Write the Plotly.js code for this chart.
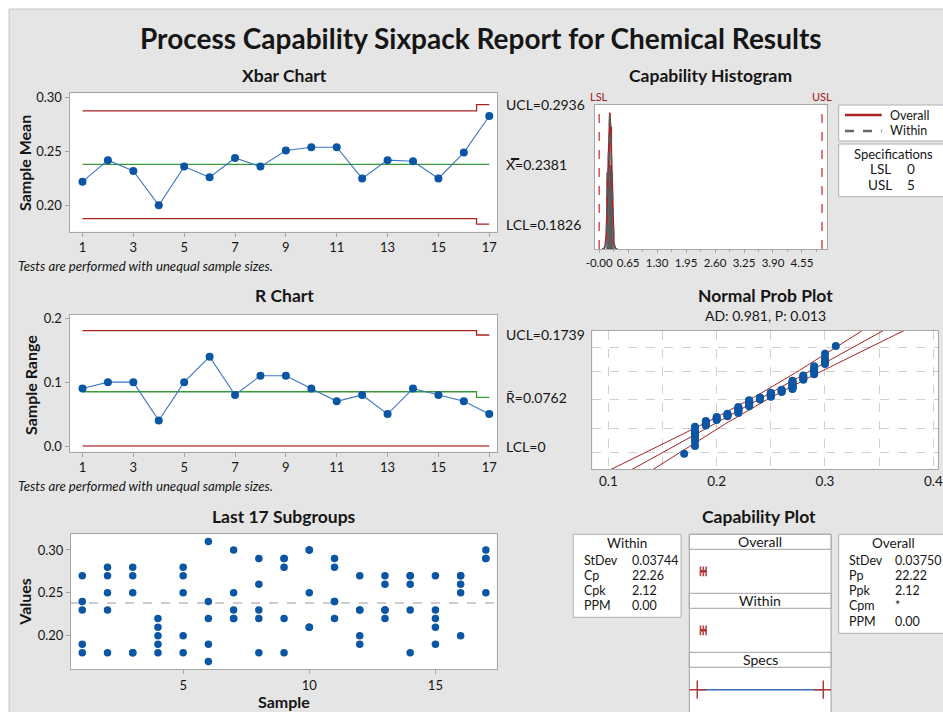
<!DOCTYPE html>
<html>
<head>
<meta charset="utf-8">
<script src="https://cdn.plot.ly/plotly-3.0.1.min.js"></script>
<style>html,body{margin:0;padding:0;background:#fff;}#chart{width:943px;height:712px;}</style>
</head>
<body>
<div id="chart"></div>
<script>
// ---------------- DATA ----------------
const sampleNums = [1,2,3,4,5,6,7,8,9,10,11,12,13,14,15,16,17];
const xbarMeans = [0.222,0.242,0.232,0.200,0.236,0.226,0.244,0.236,0.251,0.254,0.254,0.225,0.242,0.241,0.225,0.249,0.283];
const ranges    = [0.09,0.10,0.10,0.04,0.10,0.14,0.08,0.11,0.11,0.09,0.07,0.08,0.05,0.09,0.08,0.07,0.05];
const xbarUCL = [0.2877,0.2877,0.2877,0.2877,0.2877,0.2877,0.2877,0.2877,0.2877,0.2877,0.2877,0.2877,0.2877,0.2877,0.2877,0.2877,0.2936];
const xbarLCL = [0.1876,0.1876,0.1876,0.1876,0.1876,0.1876,0.1876,0.1876,0.1876,0.1876,0.1876,0.1876,0.1876,0.1876,0.1876,0.1876,0.1826];
const xbarCL  = [0.2381,0.2381,0.2381,0.2381,0.2381,0.2381,0.2381,0.2381,0.2381,0.2381,0.2381,0.2381,0.2381,0.2381,0.2381,0.2381,0.2381];
const rUCL = [0.1806,0.1806,0.1806,0.1806,0.1806,0.1806,0.1806,0.1806,0.1806,0.1806,0.1806,0.1806,0.1806,0.1806,0.1806,0.1806,0.1739];
const rCL  = [0.0850,0.0850,0.0850,0.0850,0.0850,0.0850,0.0850,0.0850,0.0850,0.0850,0.0850,0.0850,0.0850,0.0850,0.0850,0.0850,0.0762];
const rLCL = [0,0,0,0,0,0,0,0,0,0,0,0,0,0,0,0,0];
const xbarLabels = ["UCL=0.2936", "X\u033F=0.2381", "LCL=0.1826"];
const rLabels = ["UCL=0.1739", "R\u0304=0.0762", "LCL=0"];

const subgroupValues = [
  [0.27,0.24,0.23,0.19,0.18],
  [0.28,0.27,0.25,0.23,0.18],
  [0.28,0.27,0.25,0.18,0.18],
  [0.22,0.21,0.20,0.19,0.18],
  [0.28,0.27,0.25,0.20,0.18],
  [0.31,0.24,0.22,0.19,0.17],
  [0.30,0.25,0.23,0.22,0.22],
  [0.29,0.26,0.23,0.22,0.18],
  [0.29,0.29,0.28,0.22,0.18],
  [0.30,0.30,0.25,0.21,0.21],
  [0.29,0.28,0.24,0.24,0.22],
  [0.27,0.23,0.23,0.20,0.19],
  [0.27,0.26,0.23,0.23,0.22],
  [0.27,0.27,0.26,0.23,0.18],
  [0.27,0.23,0.22,0.21,0.19],
  [0.27,0.27,0.26,0.25,0.20],
  [0.30,0.29,0.29,0.25]
];
const grandMean = 0.2381;
const sdOverall = 0.03750;
const sdWithin = 0.03744;
const LSL = 0, USL = 5;
const histTickVals = [0,0.65,1.30,1.95,2.60,3.25,3.90,4.55];
const histTickText = ["-0.00","0.65","1.30","1.95","2.60","3.25","3.90","4.55"];
const probPercents = [1,10,50,90,99];
const probXTicks = [0.1,0.15,0.2,0.25,0.3,0.35,0.4];
const probXText = ["0.1","","0.2","","0.3","","0.4"];
const withinLabels = ["StDev","Cp","Cpk","PPM"];
const withinValues = ["0.03744","22.26","2.12","0.00"];
const overallLabels = ["StDev","Pp","Ppk","Cpm","PPM"];
const overallValues = ["0.03750","22.22","2.12","*","0.00"];
const specLabels = ["LSL","USL"];
const specValues = ["0","5"];

// ---------------- HELPERS ----------------
const W = 943, H = 712;
const fx = p => p / W;
const fy = p => 1 - p / H;
const FONT = "Lato, 'Open Sans', sans-serif";
const TXT = "#161616";
const RED = "#a82222";
const GREEN = "#3a9a3a";
const BLUE = "#0b56a4";
const BLUEL = "#3a76c0";
const GRAYL = "#a6a6a6";

function invNorm(p){
  const a=[-3.969683028665376e+01,2.209460984245205e+02,-2.759285104469687e+02,1.383577518672690e+02,-3.066479806614716e+01,2.506628277459239e+00];
  const b=[-5.447609879822406e+01,1.615858368580409e+02,-1.556989798598866e+02,6.680131188771972e+01,-1.328068155288572e+01];
  const c=[-7.784894002430293e-03,-3.223964580411365e-01,-2.400758277161838e+00,-2.549732539343734e+00,4.374664141464968e+00,2.938163982698783e+00];
  const d=[7.784695709041462e-03,3.224671290700398e-01,2.445134137142996e+00,3.754408661907416e+00];
  const pl=0.02425; let q,r;
  if(p<pl){q=Math.sqrt(-2*Math.log(p));return (((((c[0]*q+c[1])*q+c[2])*q+c[3])*q+c[4])*q+c[5])/((((d[0]*q+d[1])*q+d[2])*q+d[3])*q+1);}
  if(p<=1-pl){q=p-0.5;r=q*q;return (((((a[0]*r+a[1])*r+a[2])*r+a[3])*r+a[4])*r+a[5])*q/(((((b[0]*r+b[1])*r+b[2])*r+b[3])*r+b[4])*r+1);}
  q=Math.sqrt(-2*Math.log(1-p));
  return -(((((c[0]*q+c[1])*q+c[2])*q+c[3])*q+c[4])*q+c[5])/((((d[0]*q+d[1])*q+d[2])*q+d[3])*q+1);
}
function normPdf(x,m,s){return Math.exp(-0.5*((x-m)/s)**2)/(s*Math.sqrt(2*Math.PI));}

// flatten subgroups
const scatterX = [], scatterY = [];
subgroupValues.forEach((g,i)=>g.forEach(v=>{scatterX.push(sampleNums[i]);scatterY.push(v);}));
const allVals = scatterY.slice();
const sorted = allVals.slice().sort((a,b)=>a-b);
const n = sorted.length;
const probZ = sorted.map((v,i)=>invNorm((i+1-0.3)/(n+0.4)));

// fitted lines for probability plot
const zGrid = []; for(let k=0;k<=60;k++) zGrid.push(-3.3+6.6*k/60);
const fitX = zGrid.map(z=>grandMean+z*sdOverall);
const bandW = zGrid.map(z=>1.96*sdOverall*Math.sqrt(1/n+z*z/(2*n)));
const lowX = fitX.map((x,i)=>x-bandW[i]);
const upX = fitX.map((x,i)=>x+bandW[i]);

// normal curves for histogram
const curveX = []; for(let k=0;k<=120;k++) curveX.push(grandMean-4.5*sdOverall+9*sdOverall*k/120);
const curveO = curveX.map(x=>normPdf(x,grandMean,sdOverall));
const curveW = curveX.map(x=>normPdf(x,grandMean,sdWithin));

// ---------------- TRACES ----------------
const traces = [];
function limitTrace(y, color, xa, ya, width){
  return {x: sampleNums, y: y, mode:'lines', line:{color:color, width:width||1.3, shape:'hvh'}, xaxis:xa, yaxis:ya, hoverinfo:'skip'};
}
// Xbar
traces.push(limitTrace(xbarUCL, RED, 'x','y'));
traces.push(limitTrace(xbarLCL, RED, 'x','y'));
traces.push(limitTrace(xbarCL, GREEN, 'x','y'));
traces.push({x:sampleNums, y:xbarMeans, mode:'lines+markers', line:{color:BLUEL,width:1.1}, marker:{color:BLUE,size:8}, xaxis:'x', yaxis:'y'});
// R
traces.push(limitTrace(rUCL, RED, 'x2','y2'));
traces.push(limitTrace(rLCL, '#c25050', 'x2','y2', 1.6));
traces.push(limitTrace(rCL, GREEN, 'x2','y2'));
traces.push({x:sampleNums, y:ranges, mode:'lines+markers', line:{color:BLUEL,width:1.1}, marker:{color:BLUE,size:8}, xaxis:'x2', yaxis:'y2'});
// Last 17 subgroups
traces.push({x:scatterX, y:scatterY, mode:'markers', marker:{color:BLUE,size:7.5}, xaxis:'x3', yaxis:'y3'});
// Histogram
traces.push({type:'histogram', x:allVals, histnorm:'probability density', xbins:{start:0.165,end:0.325,size:0.02},
  marker:{color:'#5e5e5e', line:{color:'#444', width:0.3}}, xaxis:'x4', yaxis:'y4'});
traces.push({x:curveX, y:curveO, mode:'lines', line:{color:RED,width:1.6}, xaxis:'x4', yaxis:'y4'});
traces.push({x:curveX, y:curveW, mode:'lines', line:{color:'#5a5a5a',width:1.4,dash:'dash'}, xaxis:'x4', yaxis:'y4'});
// Probability plot
traces.push({x:lowX, y:zGrid, mode:'lines', line:{color:RED,width:1}, xaxis:'x5', yaxis:'y5'});
traces.push({x:fitX, y:zGrid, mode:'lines', line:{color:RED,width:1}, xaxis:'x5', yaxis:'y5'});
traces.push({x:upX, y:zGrid, mode:'lines', line:{color:RED,width:1}, xaxis:'x5', yaxis:'y5'});
traces.push({x:sorted, y:probZ, mode:'markers', marker:{color:BLUE,size:8}, xaxis:'x5', yaxis:'y5'});
// Capability plot intervals
function intervalTrace(sd, xa, ya){
  return {x:[grandMean-3*sd, grandMean, grandMean+3*sd], y:[0,0,0], mode:'lines+markers',
    line:{color:RED,width:2.5}, marker:{symbol:'line-ns-open',size:7,color:'#b04444',line:{color:'#b04444',width:1.6}},
    xaxis:xa, yaxis:ya};
}
traces.push(intervalTrace(sdOverall,'x6','y6'));
traces.push(intervalTrace(sdWithin,'x7','y7'));
traces.push({x:[LSL,USL], y:[0,0], mode:'lines+markers', line:{color:'#3a70b8',width:1.5},
  marker:{symbol:'cross-thin-open',size:13,color:'#b03535',line:{color:'#b03535',width:1.5}}, xaxis:'x8', yaxis:'y8'});

traces.forEach(t=>{t.showlegend=false; if(!t.hoverinfo) t.hoverinfo='skip';});

// ---------------- AXES ----------------
function baseAx(extra){
  return Object.assign({showgrid:false, zeroline:false, showline:true, mirror:true, linecolor:GRAYL, linewidth:1,
    ticks:'outside', ticklen:4, tickcolor:GRAYL, tickfont:{family:FONT,size:13,color:TXT}, fixedrange:true}, extra);
}
const layout = {
  width:W, height:H, margin:{l:0,r:0,t:0,b:0},
  paper_bgcolor:'#e5e5e5', plot_bgcolor:'#ffffff', showlegend:false,
  font:{family:FONT,color:TXT},
  // Xbar
  xaxis: baseAx({domain:[fx(69.5),fx(497.4)], range:[0.489,17.32], tickvals:[1,3,5,7,9,11,13,15,17], anchor:'y'}),
  yaxis: baseAx({domain:[fy(231.7),fy(93.3)], range:[0.1755,0.3041], tickvals:[0.20,0.25,0.30], tickformat:'.2f', anchor:'x'}),
  // R
  xaxis2: baseAx({domain:[fx(69.5),fx(497.4)], range:[0.489,17.32], tickvals:[1,3,5,7,9,11,13,15,17], anchor:'y2'}),
  yaxis2: baseAx({domain:[fy(451.7),fy(315)], range:[-0.0089,0.2052], tickvals:[0,0.1,0.2], tickformat:'.1f', anchor:'x2'}),
  // Last 17
  xaxis3: baseAx({domain:[fx(71),fx(496.7)], range:[0.553,17.43], tickvals:[5,10,15], anchor:'y3'}),
  yaxis3: baseAx({domain:[fy(669.3),fy(534.3)], range:[0.1608,0.3183], tickvals:[0.20,0.25,0.30], tickformat:'.2f', anchor:'x3'}),
  // Histogram
  xaxis4: baseAx({domain:[fx(594.7),fx(826.7)], range:[-0.10,5.105], tickvals:histTickVals, ticktext:histTickText,
    ticklen:3, tickfont:{family:FONT,size:11.5,color:TXT},
    minor:{tickmode:'linear', tick0:0, dtick:0.325, ticks:'outside', ticklen:2, tickcolor:GRAYL}, anchor:'y4'}),
  yaxis4: baseAx({domain:[fy(249),fy(105)], range:[0,11.25], showticklabels:false, ticks:'', anchor:'x4'}),
  // Prob plot
  xaxis5: baseAx({domain:[fx(592.3),fx(938.3)], range:[0.0852,0.4046], tickvals:probXTicks, ticktext:probXText, ticks:'',
    showgrid:true, gridcolor:'#d0d0d0', griddash:'dash', tickfont:{family:FONT,size:13.5,color:TXT}, anchor:'y5'}),
  yaxis5: baseAx({domain:[fy(469),fy(330.7)], range:[-3.08,3.08], tickvals:probPercents.map(p=>invNorm(p/100)),
    showticklabels:false, ticks:'', showgrid:true, gridcolor:'#d0d0d0', griddash:'dash', anchor:'x5'}),
  // Capability plot panels
  xaxis6: {domain:[fx(689.3),fx(831)], range:[-0.317,5.306], visible:false, anchor:'y6', fixedrange:true},
  yaxis6: {domain:[fy(593.3),fy(549.3)], range:[-1,1], visible:false, anchor:'x6', fixedrange:true},
  xaxis7: {domain:[fx(689.3),fx(831)], range:[-0.317,5.306], visible:false, anchor:'y7', fixedrange:true},
  yaxis7: {domain:[fy(652.3),fy(608.3)], range:[-1,1], visible:false, anchor:'x7', fixedrange:true},
  xaxis8: {domain:[fx(689.3),fx(831)], range:[-0.317,5.306], visible:false, anchor:'y8', fixedrange:true},
  yaxis8: {domain:[fy(712),fy(667.3)], range:[-1,1], visible:false, anchor:'x8', fixedrange:true},
  shapes:[], annotations:[]
};

// ---------------- SHAPES ----------------
const S = layout.shapes;
function rectPx(x0,y0,x1,y1,fill,line,layer){
  S.push({type:'rect', xref:'paper', yref:'paper', x0:fx(x0), x1:fx(x1), y0:fy(y1), y1:fy(y0),
    fillcolor:fill, line:{color:line||'rgba(0,0,0,0)', width: line?1:0}, layer:layer||'below'});
}
function linePx(x0,y0,x1,y1,color,width,dash){
  S.push({type:'line', xref:'paper', yref:'paper', x0:fx(x0), x1:fx(x1), y0:fy(y0), y1:fy(y1),
    line:{color:color,width:width,dash:dash||'solid'}, layer:'above'});
}
// white outer border strips
rectPx(0,0,943,9,'#ffffff',null,'above');
rectPx(0,0,9,712,'#ffffff',null,'above');
linePx(9,9,943,9,'#c4c4c4',1);
linePx(9,9,9,712,'#c4c4c4',1);
// last 17 mean line
S.push({type:'line', xref:'x3 domain', yref:'y3', x0:0, x1:1, y0:grandMean, y1:grandMean, line:{color:'#9a9a9a',width:1,dash:'dash'}, layer:'below'});
// LSL / USL
[LSL,USL].forEach(v=>S.push({type:'line', xref:'x4', yref:'y4 domain', x0:v, x1:v, y0:0, y1:1, line:{color:'#d03030',width:1.3,dash:'dash'}, layer:'above'}));
// histogram legend boxes
rectPx(838.7,105,952,141,'#ffffff','#b0b0b0');
rectPx(838.7,144,952,196.7,'#ffffff','#b0b0b0');
linePx(845,115,881.7,115,RED,2.5);
linePx(845,131,881.7,131,'#666666',2.5,'dash');
// capability stats boxes
rectPx(573.3,534.3,681,617.3,'#ffffff','#b0b0b0');
rectPx(838.7,534.3,952,633.3,'#ffffff','#b0b0b0');
rectPx(689.3,534.3,831,716,'#ffffff','#a0a0a0');
rectPx(689.3,534.3,831,549.3,'#ffffff','#a0a0a0');
rectPx(689.3,593.3,831,608.3,'#ffffff','#a0a0a0');
rectPx(689.3,652.3,831,667.3,'#ffffff','#a0a0a0');

// ---------------- ANNOTATIONS ----------------
const A = layout.annotations;
function txt(x,y,text,opts){
  opts = opts||{};
  A.push({xref:'paper', yref:'paper', x:fx(x), y:fy(y), text:text, showarrow:false,
    xanchor:opts.xa||'center', yanchor:opts.ya||'middle', textangle:opts.angle||0,
    font:{family:FONT, size:opts.size||13, color:opts.color||TXT, weight:opts.bold?'bold':'normal', style:opts.italic?'italic':'normal'}});
}
txt(481,38,"Process Capability Sixpack Report for Chemical Results",{size:28,bold:true});
txt(284,75.7,"Xbar Chart",{size:17.5,bold:true});
txt(284,295.7,"R Chart",{size:17.5,bold:true});
txt(283.5,516,"Last 17 Subgroups",{size:17.5,bold:true});
txt(710,75,"Capability Histogram",{size:17.5,bold:true});
txt(765,295.7,"Normal Prob Plot",{size:17.5,bold:true});
txt(765,315.7,"AD: 0.981, P: 0.013",{size:14});
txt(759.3,516,"Capability Plot",{size:17.5,bold:true});
// axis titles
txt(25,163,"Sample Mean",{size:16,bold:true,angle:-90});
txt(30,385,"Sample Range",{size:16,bold:true,angle:-90});
txt(25,601.7,"Values",{size:16,bold:true,angle:-90});
txt(283.5,701,"Sample",{size:16,bold:true});
// control limit labels
const xbarLabelY = [xbarUCL[16], xbarCL[16], xbarLCL[16]];
xbarLabels.forEach((t,i)=>A.push({xref:'paper', yref:'y', x:fx(504), y:xbarLabelY[i], text:t, showarrow:false, xanchor:'left', yanchor:'middle', font:{family:FONT,size:14,color:TXT}}));
const rLabelY = [rUCL[16], rCL[16], rLCL[16]];
rLabels.forEach((t,i)=>A.push({xref:'paper', yref:'y2', x:fx(504), y:rLabelY[i], text:t, showarrow:false, xanchor:'left', yanchor:'middle', font:{family:FONT,size:14,color:TXT}}));
// notes
txt(16,265.7,"Tests are performed with unequal sample sizes.",{size:13.2,italic:true,xa:'left'});
txt(16,485.7,"Tests are performed with unequal sample sizes.",{size:13.2,italic:true,xa:'left'});
// LSL / USL labels
A.push({xref:'x4', yref:'paper', x:LSL, y:fy(96.7), text:'LSL', showarrow:false, xanchor:'center', yanchor:'middle', font:{family:FONT,size:11,color:'#9a2020'}});
A.push({xref:'x4', yref:'paper', x:USL, y:fy(96.7), text:'USL', showarrow:false, xanchor:'center', yanchor:'middle', font:{family:FONT,size:11,color:'#9a2020'}});
// legend texts
txt(888,115,"Overall",{size:12.5,xa:'left'});
txt(888,131,"Within",{size:12.5,xa:'left'});
txt(893.3,154.3,"Specifications",{size:13});
specLabels.forEach((t,i)=>{ txt(880,169.3+16*i,t,{size:13.5}); txt(910.7,169.3+16*i,specValues[i],{size:13.5}); });
// capability tables
txt(627.2,543.3,"Within",{size:13.5});
withinLabels.forEach((t,i)=>{ txt(581.7,560+15.3*i,t,{size:12.5,xa:'left'}); txt(630,560+15.3*i,withinValues[i],{size:12.5,xa:'left'}); });
txt(893.3,543.3,"Overall",{size:13.5});
overallLabels.forEach((t,i)=>{ txt(847.3,560+15.3*i,t,{size:12.5,xa:'left'}); txt(893,560+15.3*i,overallValues[i],{size:12.5,xa:'left'}); });
txt(760,541.7,"Overall",{size:14});
txt(760,600.5,"Within",{size:14});
txt(760,659.5,"Specs",{size:14});

Plotly.newPlot('chart', traces, layout, {staticPlot:true, displayModeBar:false});
</script>
</body>
</html>
